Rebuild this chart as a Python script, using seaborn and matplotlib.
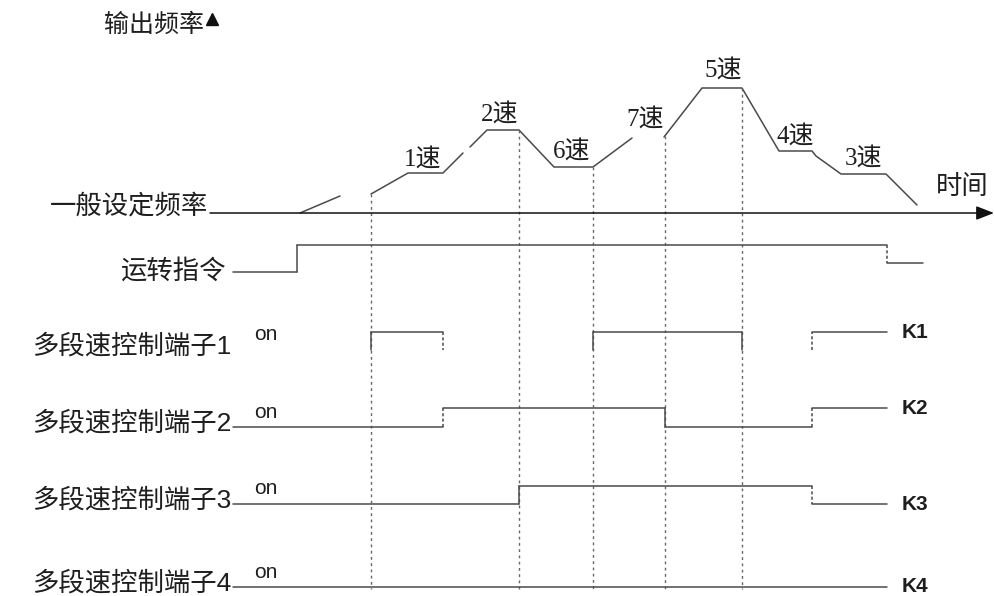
import numpy as np
import pandas as pd
import seaborn as sns
import matplotlib.pyplot as plt

# curva de frecuencia de salida: tiempo y altura sobre el eje de tiempo
curve_t = [[300, 340],
           [371, 408, 443, 463],
           [470, 487, 519, 554, 593, 632],
           [664, 702, 742, 779, 812, 816, 841, 886, 917]]
curve_f = [[0, 17],
           [19, 40, 40, 60],
           [66, 83, 83, 46, 46, 75],
           [76, 125, 125, 62, 62, 57, 39, 39, 8]]
speed_names = ["1速", "2速", "6速", "7速", "5速", "4速", "3速"]

# señales (instantes de cambio y nivel en cada intervalo)
run_t = [233, 297, 887, 923]
run_s = [0, 1, 0.35]
k1_t = [371, 443, 593, 742, 812, 887]
k1_s = [1, 0, 1, 0, 1]
k2_t = [233, 443, 665, 812, 887]
k2_s = [0, 1, 0, 1]
k3_t = [233, 519, 812, 887]
k3_s = [0, 1, 0]
k4_t = [233, 887]
k4_s = [0]
dashed_edges = [443, 812, 887]
guide_t = [371, 519, 593, 665, 742]

row_names = ["运转指令", "多段速控制端子1", "多段速控制端子2", "多段速控制端子3", "多段速控制端子4"]
k_names = ["K1", "K2", "K3", "K4"]

# layout (pixeles)
axis_y = 213
speed_lbl_x = [423, 500, 572, 645, 723, 795, 863]
speed_lbl_y = [159, 114, 151, 119, 70, 136, 158]
row_base = [272, 350, 427, 504, 587]
row_amp = [27, 18, 19, 18, 18]

line_c = "#4a4a4a"
txt_c = "#1e1e1e"

sns.set_theme(style="white")
plt.rcParams['font.family'] = ['Noto Sans CJK SC', 'DejaVu Sans']

fig = plt.figure(figsize=(9.95, 5.96), dpi=100)
ax = fig.add_axes([0, 0, 1, 1])

rows = []
for i in range(len(curve_t)):
    for t, f in zip(curve_t[i], curve_f[i]):
        rows.append({"t": t, "y": axis_y - f, "seg": i})
df = pd.DataFrame(rows)
sns.lineplot(data=df, x="t", y="y", units="seg", estimator=None, sort=False,
             color=line_c, lw=1.1, ax=ax, legend=False)

# eje de tiempo con flecha
ax.annotate("", xy=(994, axis_y), xytext=(210, axis_y), annotation_clip=False,
            arrowprops=dict(arrowstyle="-|>,head_length=0.9,head_width=0.35",
                            color="#111111", lw=1.1, shrinkA=0, shrinkB=0))
ax.plot([212], [19], marker="^", ms=9, color="#111111")

# lineas guia punteadas
all_t = np.concatenate(curve_t)
all_f = np.concatenate(curve_f)
for t in guide_t:
    f = np.interp(t, all_t, all_f)
    ax.plot([t, t], [axis_y - f, 589], color="#666666", lw=1.0, ls=(0, (2, 2.5)))


def draw_signal(times, states, base, amp, draw_low=True):
    for i, s in enumerate(states):
        y = base - s * amp
        if s > 0 or draw_low:
            ax.plot([times[i], times[i + 1]], [y, y], color=line_c, lw=1.1)
    edges = []
    if not draw_low and states[0] > 0:
        edges.append((times[0], base, base - amp))
    for i in range(1, len(states)):
        edges.append((times[i], base - states[i - 1] * amp, base - states[i] * amp))
    for t, y0, y1 in edges:
        ls = (0, (2, 1.5)) if t in dashed_edges else "-"
        ax.plot([t, t], [y0, y1], color=line_c, lw=1.1, ls=ls)


signals = [(run_t, run_s), (k1_t, k1_s), (k2_t, k2_s), (k3_t, k3_s), (k4_t, k4_s)]
for j, (t, s) in enumerate(signals):
    draw_signal(t, s, row_base[j], row_amp[j], draw_low=(j != 1))

# textos
ax.text(204, 25, "输出频率", fontsize=18, color=txt_c, ha="right", va="center")
ax.text(208, 206, "一般设定频率", fontsize=19, color=txt_c, ha="right", va="center")
ax.text(962, 186, "时间", fontsize=19, color=txt_c, ha="center", va="center")
for name, x, y in zip(speed_names, speed_lbl_x, speed_lbl_y):
    ax.text(x, y, name, fontsize=18, color=txt_c, ha="center", va="center",
            family=['Liberation Serif', 'Noto Sans CJK SC'])

ax.text(226, 271, row_names[0], fontsize=19, color=txt_c, ha="right", va="center")
for j in range(1, 5):
    ax.text(231, row_base[j] - 4, row_names[j], fontsize=19, color=txt_c,
            ha="right", va="center", family=['Liberation Sans', 'Noto Sans CJK SC'])
    ax.text(266, row_base[j] - 15, "on", fontsize=15, color=txt_c,
            ha="center", va="center", family="Liberation Sans")
    last = signals[j][1][-1]
    ax.text(915, row_base[j] - last * row_amp[j], k_names[j - 1], fontsize=15,
            weight="bold", color=txt_c, ha="center", va="center",
            family="Liberation Sans")

ax.set_xlim(0, 995)
ax.set_ylim(596, 0)
ax.axis("off")
fig.savefig("out.png", dpi=100)
